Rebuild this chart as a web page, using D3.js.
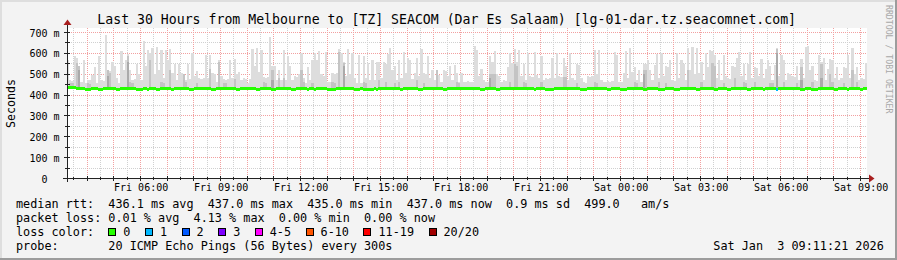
<!DOCTYPE html>
<html><head><meta charset="utf-8">
<script src="https://cdn.jsdelivr.net/npm/d3@7"></script>
<style>
html,body{margin:0;padding:0;background:#f3f3f3;overflow:hidden;}
svg{display:block;}
text{font-family:"DejaVu Sans Mono",monospace;white-space:pre;}
</style></head><body>
<svg id="c" width="897" height="260"></svg>
<script>
// ---------------- DATA ----------------
const titleText = "Last 30 Hours from Melbourne to [TZ] SEACOM (Dar Es Salaam) [lg-01-dar.tz.seacomnet.com]";
const yAxisTitle = "Seconds";
const watermark = "RRDTOOL / TOBI OETIKER";
const startTime = [2026, 0, 2, 3, 14, 20];   // Fri Jan 2 03:14:20
const endTime   = [2026, 0, 3, 9, 14, 20];   // Sat Jan 3 09:14:20
const stepMinutes = 5;

// highest ping per 5 min interval (ms)
const smokeMax = [
570,470,468,585,579,540,462,566,458,470,
472,494,537,460,585,470,466,690,520,514,
560,540,480,460,610,520,566,596,518,470,
475,548,500,470,660,540,614,600,628,500,
631,520,615,480,618,570,620,505,548,470,
550,505,502,470,550,475,600,490,515,480,
478,482,590,480,592,505,500,465,566,490,
475,472,478,570,480,575,500,510,470,480,
478,460,475,623,540,628,510,614,485,482,
487,680,540,540,470,520,470,614,470,585,
540,470,490,487,500,600,480,460,535,470,
566,600,566,610,500,490,607,465,462,505,
502,507,620,600,560,490,620,500,600,480,
460,590,460,585,480,556,470,570,470,560,
557,480,558,548,595,624,520,540,470,570,
480,605,505,580,570,475,505,580,490,620,
505,502,585,480,520,470,522,495,465,520,
516,490,540,470,542,505,465,507,465,462,
466,463,465,636,615,490,525,470,465,462,
585,560,612,500,490,465,470,467,535,600,
555,620,560,615,490,548,470,600,490,487,
605,495,480,585,470,480,477,482,580,480,
600,490,487,580,540,470,600,480,470,548,
545,480,462,460,490,487,492,615,500,617,
470,465,462,467,464,466,607,590,465,462,
505,610,480,624,510,535,470,520,465,550,
547,566,520,470,545,595,480,600,490,540,
537,570,470,467,600,480,566,548,470,628,
520,630,500,628,505,560,470,600,535,615,
611,590,480,566,470,590,490,480,477,540,
537,580,607,490,548,470,550,607,480,535,
532,490,575,480,525,570,540,470,542,624,
490,590,566,470,505,502,490,487,540,470,
575,480,630,636,520,540,470,467,590,560,
580,470,525,575,566,480,535,470,480,535,
532,590,480,628,500,535,470,480,477,555
];
// second highest ping [interval, ms] where visibly above the median
const smokeSecond = [
[1,458],[2,456],[4,552],[5,540],[9,460],[10,455],[18,518],[19,505],[27,588],[28,462],[29,458],
[37,566],[42,462],[43,458],[46,518],[52,500],[53,462],[58,458],[64,527],[68,560],[70,460],[71,456],
[75,478],[88,462],[89,458],[92,518],[95,480],[97,480],[105,518],[106,462],[110,460],[119,462],[120,458],
[122,606],[124,552],[133,462],[134,458],[140,470],[143,462],[147,458],[149,465],[157,470],[160,460],
[166,518],[175,462],[176,458],[190,503],[191,503],[192,500],[199,462],[201,548],[202,540],[205,462],
[206,458],[213,462],[223,485],[224,485],[229,460],[237,462],[238,458],[255,462],[256,458],[259,518],
[260,518],[266,462],[269,458],[279,518],[285,462],[290,552],[291,540],[295,460],[300,480],[304,462],
[305,458],[309,462],[316,460],[317,456],[319,620],[322,462],[328,460],[330,535],[335,462],[339,548],
[343,500],[344,462],[349,460],[353,518],[355,462]
];
// third highest ping [interval, ms]
const smokeThird = [
[5,520],[18,490],[27,560],[92,470],[124,540],[190,480],[259,500],[319,600],[330,470],[339,480]
];
const smokeFloor = 432;
// median rtt (ms) as runs of [intervals, value]
const medianRuns = [
[4,439],[4,434],[3,429],[3,434],[2,429],[6,434],[2,429],[7,434],[3,429],[2,434],[1,429],[3,434],
[2,429],[5,434],[1,429],[7,434],[2,429],[8,434],[2,429],[9,434],[2,429],[7,434],[2,429],[5,434],
[2,429],[7,434],[2,429],[5,434],[1,429],[2,434],[1,429],[5,434],[4,429],[8,434],[3,429],[1,434],
[5,429],[1,434],[1,429],[10,434],[1,429],[7,434],[2,429],[9,434],[2,429],[15,434],[2,429],[5,434],
[2,429],[15,434],[1,429],[4,434],[4,429],[12,434],[3,429],[9,434],[2,429],[4,434],[3,429],[7,434],
[2,429],[5,434],[3,429],[4,434],[3,429],[7,434],[2,429],[6,434],[2,429],[4,434],[2,429],[7,434],
[2,429],[5,434],[1,429],[5,434],[1,429],[10,434],[2,429],[3,434],[3,429],[7,434],[2,429],[4,434],
[1,429],[5,434],[1,429],[2,434]
];
// lost pings out of 20 [interval, count]
const lossEvents = [[319, 1]];

const lossLegend = ["0","1","2","3","4-5","6-10","11-19","20/20"];
const lossUpper  = [0, 1, 2, 3, 5, 10, 19, 20];
const lossColors = ["#26ff00","#00b8ff","#0059ff","#7e00ff","#ff00ff","#ff5500","#ff0000","#a10000"];

const xTickLabels = ["Fri 06:00","Fri 09:00","Fri 12:00","Fri 15:00","Fri 18:00","Fri 21:00","Sat 00:00","Sat 03:00","Sat 06:00","Sat 09:00"];
const yTickValues = [0, 0.1, 0.2, 0.3, 0.4, 0.5, 0.6, 0.7];
const yTickLabels = ["0  ","100 m","200 m","300 m","400 m","500 m","600 m","700 m"];
const yMinorValues = [0.05, 0.15, 0.25, 0.35, 0.45, 0.55, 0.65];
const yMax = 0.7192;

const legendRows = [
  "median rtt:  436.1 ms avg  437.0 ms max  435.0 ms min  437.0 ms now  0.9 ms sd  499.0   am/s",
  "packet loss: 0.01 % avg  4.13 % max  0.00 % min  0.00 % now",
  "loss color:",
  "probe:       20 ICMP Echo Pings (56 Bytes) every 300s"
];
const dateText = "Sat Jan  3 09:11:21 2026";

// ---------------- LAYOUT ----------------
const W = 897, H = 260;
const L = 67, R = 867, T = 28.5, B = 178.5;
const FONT = "DejaVu Sans Mono";
const svg = d3.select("#c");

svg.append("rect").attr("width", W).attr("height", H).attr("fill", "#f3f3f3");
svg.append("path").attr("d", `M0,0H${W}V2H2V${H}H0Z`).attr("fill", "#dedede");
svg.append("path").attr("d", `M${W},${H}H0V${H-2}H${W-2}V0H${W}Z`).attr("fill", "#9c9c9c");

const t0 = new Date(...startTime), t1 = new Date(...endTime);
const x = d3.scaleTime().domain([t0, t1]).range([L, R]);
const y = d3.scaleLinear().domain([0, yMax]).range([B, T]);

// canvas
svg.append("rect").attr("x", L).attr("y", 28).attr("width", R - L).attr("height", 150).attr("fill", "#fff");

const grid = svg.append("g").attr("shape-rendering", "crispEdges").attr("stroke-width", 1).attr("stroke-dasharray", "1,1");
const minorT = x.ticks(d3.timeMinute.every(30));
const majorT = x.ticks(d3.timeHour.every(1));
const isMajor = t => t.getMinutes() === 0;
const vx = t => Math.floor(x(t)) + 0.5;
grid.selectAll(".vmin").data(minorT.filter(t => !isMajor(t))).join("line")
  .attr("x1", vx).attr("x2", vx).attr("y1", 28).attr("y2", B).attr("stroke", "#d0d0d0");
grid.selectAll(".hmin").data(yMinorValues).join("line")
  .attr("x1", L).attr("x2", R).attr("y1", d => Math.floor(y(d)) + 0.5).attr("y2", d => Math.floor(y(d)) + 0.5).attr("stroke", "#d0d0d0");
grid.selectAll(".vmaj").data(majorT).join("line")
  .attr("x1", vx).attr("x2", vx).attr("y1", 28).attr("y2", B).attr("stroke", "#f2a0a0");
grid.selectAll(".hmaj").data(yTickValues.slice(1)).join("line")
  .attr("x1", L).attr("x2", R).attr("y1", d => Math.floor(y(d)) + 0.5).attr("y2", d => Math.floor(y(d)) + 0.5).attr("stroke", "#f2a0a0");

// smoke
const tAt = i => new Date(t0.getTime() + i * stepMinutes * 60000);
const sec = ms => ms / 1000;
const smokeG = svg.append("g").attr("shape-rendering", "crispEdges");
function drawLayer(pairs, color) {
  smokeG.append("g").selectAll("rect").data(pairs).join("rect")
    .attr("x", d => x(tAt(d[0])))
    .attr("width", d => x(tAt(d[0] + 1)) - x(tAt(d[0])))
    .attr("y", d => y(sec(d[1])))
    .attr("height", d => y(sec(smokeFloor)) - y(sec(d[1])))
    .attr("fill", color);
}
drawLayer(smokeMax.map((v, i) => [i, v]), "#dddddd");
drawLayer(smokeSecond, "#c4c4c4");
drawLayer(smokeThird, "#aaaaaa");

// median coloured by loss
const medianMs = medianRuns.flatMap(([n, v]) => Array(n).fill(v));
const lossMap = new Map(lossEvents);
const lossColor = c => lossColors[lossUpper.findIndex(u => c <= u)];
svg.append("g").attr("shape-rendering", "crispEdges").selectAll("rect").data(medianMs).join("rect")
  .attr("x", (d, i) => x(tAt(i)))
  .attr("width", (d, i) => x(tAt(i + 1)) - x(tAt(i)))
  .attr("y", d => Math.round(y(sec(d))) - 1.5)
  .attr("height", 3)
  .attr("fill", (d, i) => lossColor(lossMap.get(i) || 0));

// axes lines & ticks
const ax = svg.append("g").attr("shape-rendering", "crispEdges").attr("stroke", "#222");
ax.append("line").attr("x1", 63).attr("x2", 870).attr("y1", B).attr("y2", B);
ax.append("line").attr("x1", L + 0.5).attr("x2", L + 0.5).attr("y1", 182).attr("y2", 24);
ax.selectAll(".xt").data(minorT).join("line")
  .attr("x1", vx).attr("x2", vx).attr("y1", d => isMajor(d) ? 176 : 177).attr("y2", d => isMajor(d) ? 181 : 180);
ax.selectAll(".yt").data(yTickValues.concat(yMinorValues)).join("line")
  .attr("y1", d => Math.floor(y(d)) + 0.5).attr("y2", d => Math.floor(y(d)) + 0.5)
  .attr("x1", d => yMinorValues.includes(d) ? 65 : 64).attr("x2", 70);
svg.append("path").attr("d", `M869,174.5L874.5,178.5L869,182.5Z`).attr("fill", "#a81e1e");
svg.append("path").attr("d", `M63.5,25L67.5,19.5L71.5,25Z`).attr("fill", "#a81e1e");

// tick labels via d3 axes
const labelTicks = x.ticks(d3.timeHour.every(3));
const xAxis = d3.axisBottom(x).tickValues(labelTicks).tickSize(0).tickPadding(0)
  .tickFormat((d, i) => xTickLabels[i]);
const gx = svg.append("g").attr("transform", `translate(0,${B + 3})`).call(xAxis);
gx.select(".domain").remove();
gx.selectAll("text").attr("font-family", FONT).attr("font-size", 10).attr("fill", "#000").attr("dy", "0.9em");

const yAxis = d3.axisLeft(y).tickValues(yTickValues).tickSize(0).tickPadding(0)
  .tickFormat((d, i) => yTickLabels[i]);
const gy = svg.append("g").attr("transform", `translate(59.5,0)`).call(yAxis);
gy.select(".domain").remove();
gy.selectAll("text").attr("font-family", FONT).attr("font-size", 10).attr("fill", "#000").attr("dy", "0.35em").style("white-space", "pre");

// titles
svg.append("text").attr("x", 446.7).attr("y", 23.5).attr("text-anchor", "middle")
  .attr("font-size", 13.2).attr("fill", "#000").text(titleText);
svg.append("text").attr("transform", "translate(15,103.5) rotate(-90)").attr("text-anchor", "middle")
  .attr("font-size", 11.6).attr("fill", "#000").text(yAxisTitle);
svg.append("text").attr("transform", "translate(885.5,5) rotate(90)")
  .attr("font-size", 8.2).attr("fill", "#a8a8a8").text(watermark);

// legend
const LX = 16, LY = 208, LH = 13.9, FS = 11.8, CW = FS * 0.602;
svg.selectAll(".leg").data(legendRows).join("text")
  .attr("x", LX).attr("y", (d, i) => LY + i * LH).attr("font-size", FS).attr("fill", "#000").text(d => d);
svg.append("text").attr("x", 713.3).attr("y", LY + 3 * LH).attr("font-size", FS).attr("fill", "#000").text(dateText);

let tx = LX + 13 * CW + 15;
const lg = svg.append("g");
lossLegend.forEach((lab, i) => {
  lg.append("rect").attr("x", Math.round(tx - 15) + 0.5).attr("y", 228.5).attr("width", 7).attr("height", 7)
    .attr("fill", lossColors[i]).attr("stroke", "#000").attr("shape-rendering", "crispEdges");
  lg.append("text").attr("x", tx).attr("y", LY + 2 * LH).attr("font-size", FS).attr("fill", "#000").text(lab);
  tx += lab.length * CW + 29.5;
});
</script>
</body></html>
